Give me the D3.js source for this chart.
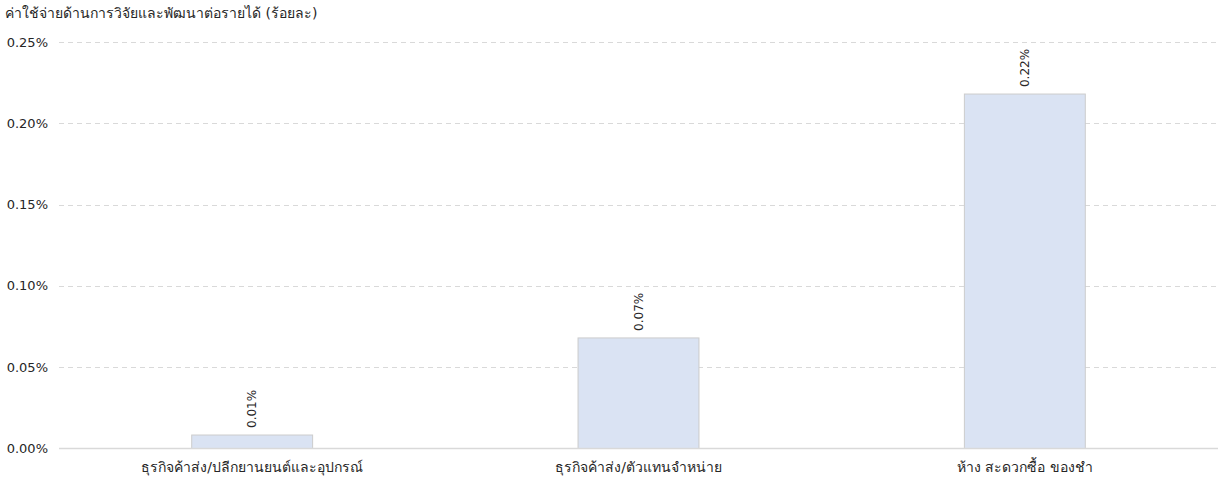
<!DOCTYPE html>
<html>
<head>
<meta charset="utf-8">
<script src="https://cdn.jsdelivr.net/npm/d3@7"></script>
<style>
  body { margin: 0; background: #fff; }
  svg { display: block; font-family: "DejaVu Sans", "Noto Sans", sans-serif; }
</style>
</head>
<body>
<svg id="chart" width="1218" height="480"></svg>
<script>
// R&D spending as a share of revenue (percent), by business type
const categories = [
  "ธุรกิจค้าส่ง/ปลีกยานยนต์และอุปกรณ์",
  "ธุรกิจค้าส่ง/ตัวแทนจำหน่าย",
  "ห้าง สะดวกซื้อ ของชำ"
];
const values = [0.0083, 0.068, 0.218];
const valueLabels = ["0.01%", "0.07%", "0.22%"];
const yTicks = [0, 0.05, 0.10, 0.15, 0.20, 0.25];
const yTitle = "ค่าใช้จ่ายด้านการวิจัยและพัฒนาต่อรายได้ (ร้อยละ)";

const svg = d3.select("#chart");
const plotLeft = 59, plotRight = 1218, plotTop = 42, plotBottom = 448.5;

const x = d3.scaleBand().domain(categories).range([plotLeft, plotRight]).paddingInner(0.687).paddingOuter(0.3435);
const y = d3.scaleLinear().domain([0, 0.25]).range([plotBottom, plotTop]);

// dashed gridlines
svg.append("g").selectAll("line").data(yTicks.filter(d => d > 0)).join("line")
  .attr("x1", plotLeft).attr("x2", plotRight)
  .attr("y1", d => Math.round(y(d)) + 0.5).attr("y2", d => Math.round(y(d)) + 0.5)
  .attr("stroke", "#d9d9d9").attr("stroke-width", 1).attr("stroke-dasharray", "5,4");

// y tick labels
svg.append("g").selectAll("text").data(yTicks).join("text")
  .attr("x", 48).attr("y", d => y(d)).attr("dy", "0.35em")
  .attr("text-anchor", "end").attr("font-size", 13).attr("fill", "#262626")
  .text(d => d3.format(".2%")(d / 100));

// axis title
svg.append("text").attr("x", 5).attr("y", 18).attr("font-size", 14).attr("fill", "#262626").text(yTitle);

// bars
svg.append("g").selectAll("rect").data(values).join("rect")
  .attr("x", (d, i) => x(categories[i]))
  .attr("width", x.bandwidth())
  .attr("y", d => y(d))
  .attr("height", d => y(0) - y(d))
  .attr("fill", "#dae3f3").attr("stroke", "#cccccc").attr("stroke-width", 1);

// baseline
svg.append("line").attr("x1", plotLeft).attr("x2", plotRight)
  .attr("y1", plotBottom).attr("y2", plotBottom)
  .attr("stroke", "#d9d9d9").attr("stroke-width", 1.5);

// rotated value labels
svg.append("g").selectAll("text").data(values).join("text")
  .attr("transform", (d, i) => `translate(${x(categories[i]) + x.bandwidth() / 2 + 4},${y(d) - 7}) rotate(-90)`)
  .attr("text-anchor", "start").attr("font-size", 12).attr("fill", "#262626")
  .text((d, i) => valueLabels[i]);

// category labels
svg.append("g").selectAll("text").data(categories).join("text")
  .attr("x", d => x(d) + x.bandwidth() / 2).attr("y", 472)
  .attr("text-anchor", "middle").attr("font-size", 14).attr("fill", "#262626")
  .text(d => d);
</script>
</body>
</html>
